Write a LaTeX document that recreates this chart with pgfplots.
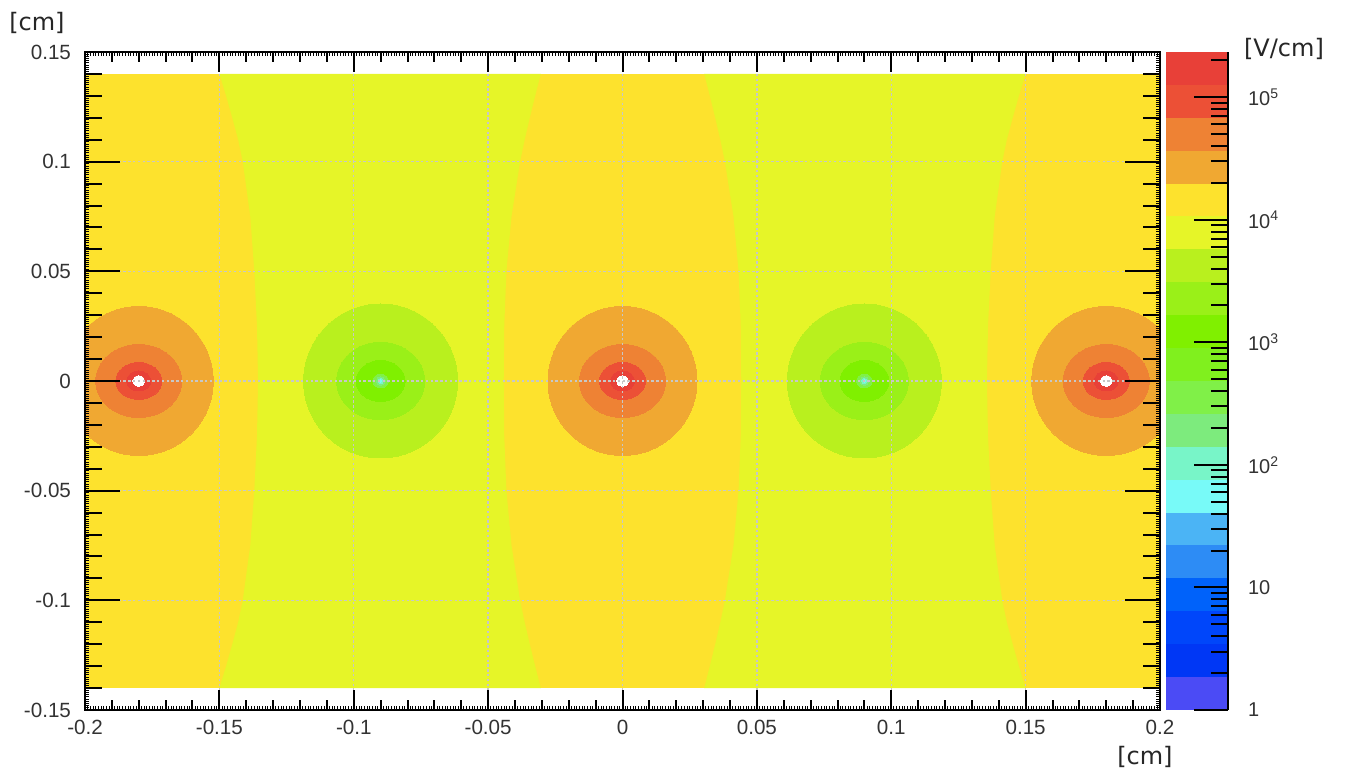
\documentclass[border=0pt]{standalone}
\usepackage{pgfplots}
\pgfplotsset{compat=1.18}
\usepackage{fontspec}
\setmainfont{Liberation Sans}
\newfontfamily\unitfont{DejaVu Sans}
\definecolor{c1}{RGB}{75,75,245}
\definecolor{c2}{RGB}{0,55,245}
\definecolor{c3}{RGB}{0,70,250}
\definecolor{c4}{RGB}{0,98,250}
\definecolor{c5}{RGB}{45,140,245}
\definecolor{c6}{RGB}{75,180,245}
\definecolor{c7}{RGB}{120,250,248}
\definecolor{c8}{RGB}{120,245,200}
\definecolor{c9}{RGB}{125,235,125}
\definecolor{c10}{RGB}{128,240,72}
\definecolor{c11}{RGB}{128,240,30}
\definecolor{c12}{RGB}{128,240,0}
\definecolor{c13}{RGB}{154,240,24}
\definecolor{c14}{RGB}{185,240,30}
\definecolor{c15}{RGB}{230,245,40}
\definecolor{c16}{RGB}{253,226,45}
\definecolor{c17}{RGB}{240,168,50}
\definecolor{c18}{RGB}{238,130,52}
\definecolor{c19}{RGB}{236,80,54}
\definecolor{c20}{RGB}{232,64,56}
\begin{document}
\begin{tikzpicture}
% ---------------- main field map ----------------
\begin{axis}[name=main, at={(0,0)}, anchor=south west,
  scale only axis, width=537.5pt, height=329pt,
  xmin=-0.2, xmax=0.2, ymin=-0.15, ymax=0.15,
  axis on top, clip marker paths=true,
  xtick={-0.2,-0.15,-0.1,-0.05,0,0.05,0.1,0.15,0.2},
  xticklabels={-0.2,-0.15,-0.1,-0.05,0,0.05,0.1,0.15,0.2},
  ytick={-0.15,-0.1,-0.05,0,0.05,0.1,0.15},
  yticklabels={-0.15,-0.1,-0.05,0,0.05,0.1,0.15},
  minor x tick num=4, minor y tick num=4,
  tick align=inside, major tick length=10pt, minor tick length=5pt,
  tick style={black, line width=1pt},
  grid=major,
  major grid style={black!22, line width=0.7pt, dash pattern=on 1.2pt off 1.2pt},
  axis line style={line width=1pt},
  ticklabel style={font=\fontsize{10.3}{12}\selectfont, text=black!80},
  xticklabel shift=1.5pt, yticklabel shift=3.5pt,
  xlabel={[cm]}, ylabel={[cm]},
  xlabel style={font=\unitfont\fontsize{12}{14}\selectfont, text=black!85,
    at={(axis description cs:0.986,-0.0714)}, anchor=center},
  ylabel style={font=\unitfont\fontsize{12}{14}\selectfont, text=black!85,
    at={(axis description cs:-0.0447,1.044)}, anchor=center, rotate=-90},
]
% background (yellow)
\addplot[fill=c16, draw=none] coordinates {(-0.2,-0.14) (0.2,-0.14) (0.2,0.14) (-0.2,0.14)} -- cycle;
% left yellow-green band
\addplot[fill=c15, draw=none] coordinates {
 (-0.1500,0.14) (-0.1475,0.13) (-0.1452,0.12) (-0.1430,0.11) (-0.1413,0.10)
 (-0.1385,0.075) (-0.1370,0.05) (-0.1360,0.025) (-0.1356,0) (-0.1360,-0.025)
 (-0.1370,-0.05) (-0.1385,-0.075) (-0.1413,-0.10) (-0.1430,-0.11) (-0.1452,-0.12)
 (-0.1475,-0.13) (-0.1500,-0.14)
 (-0.0304,-0.14) (-0.0325,-0.13) (-0.0345,-0.12) (-0.0364,-0.11) (-0.0381,-0.10)
 (-0.0413,-0.075) (-0.0432,-0.05) (-0.0440,-0.025) (-0.0442,0) (-0.0440,0.025)
 (-0.0432,0.05) (-0.0413,0.075) (-0.0381,0.10) (-0.0364,0.11) (-0.0345,0.12)
 (-0.0325,0.13) (-0.0304,0.14)} -- cycle;
% right yellow-green band
\addplot[fill=c15, draw=none] coordinates {
 (0.1500,0.14) (0.1475,0.13) (0.1452,0.12) (0.1430,0.11) (0.1413,0.10)
 (0.1385,0.075) (0.1370,0.05) (0.1360,0.025) (0.1356,0) (0.1360,-0.025)
 (0.1370,-0.05) (0.1385,-0.075) (0.1413,-0.10) (0.1430,-0.11) (0.1452,-0.12)
 (0.1475,-0.13) (0.1500,-0.14)
 (0.0304,-0.14) (0.0325,-0.13) (0.0345,-0.12) (0.0364,-0.11) (0.0381,-0.10)
 (0.0413,-0.075) (0.0432,-0.05) (0.0440,-0.025) (0.0442,0) (0.0440,0.025)
 (0.0432,0.05) (0.0413,0.075) (0.0381,0.10) (0.0364,0.11) (0.0345,0.12)
 (0.0325,0.13) (0.0304,0.14)} -- cycle;
% high-field wires
\addplot[only marks, mark=*, mark size=37.25pt, mark options={draw=c17, line width=0pt, fill=c17}] coordinates {(-0.18,0) (0,0) (0.18,0)};
\addplot[only marks, mark=*, mark size=18.25pt, mark options={draw=c18, line width=0pt, fill=c18, xscale=1.178}] coordinates {(-0.18,0) (0,0) (0.18,0)};
\addplot[only marks, mark=*, mark size=9.2pt, mark options={draw=c19, line width=0pt, fill=c19, xscale=1.25}] coordinates {(-0.18,0) (0,0) (0.18,0)};
\addplot[only marks, mark=*, mark size=5pt, mark options={draw=c20, line width=0pt, fill=c20, xscale=1.2}] coordinates {(-0.18,0) (0,0) (0.18,0)};
\addplot[only marks, mark=*, mark size=2.6pt, mark options={draw=white, line width=0pt, fill=white, xscale=1.15}] coordinates {(-0.18,0) (0,0) (0.18,0)};
% low-field points
\addplot[only marks, mark=*, mark size=38.5pt, mark options={draw=c14, line width=0pt, fill=c14}] coordinates {(-0.09,0) (0.09,0)};
\addplot[only marks, mark=*, mark size=19.35pt, mark options={draw=c13, line width=0pt, fill=c13, xscale=1.137}] coordinates {(-0.09,0) (0.09,0)};
\addplot[only marks, mark=*, mark size=10.25pt, mark options={draw=c12, line width=0pt, fill=c12, xscale=1.195}] coordinates {(-0.09,0) (0.09,0)};
\addplot[only marks, mark=*, mark size=3.4pt, mark options={draw=c10, line width=0pt, fill=c10, xscale=1.15}] coordinates {(-0.09,0) (0.09,0)};
\addplot[only marks, mark=*, mark size=2.2pt, mark options={draw=c9, line width=0pt, fill=c9}] coordinates {(-0.09,0) (0.09,0)};
\addplot[only marks, mark=*, mark size=1.3pt, mark options={draw=c8, line width=0pt, fill=c8}] coordinates {(-0.09,0) (0.09,0)};
\addplot[only marks, mark=*, mark size=0.6pt, mark options={draw=c7, line width=0pt, fill=c7}] coordinates {(-0.09,0) (0.09,0)};
\end{axis}
% ---------------- long y ticks ----------------
\begin{axis}[at={(main.south west)}, anchor=south west,
  scale only axis, width=537.5pt, height=329pt,
  xmin=-0.2, xmax=0.2, ymin=-0.15, ymax=0.15,
  xtick=\empty, ytick={-0.15,-0.1,-0.05,0,0.05,0.1,0.15},
  xticklabels={}, yticklabels={},
  minor y tick num=4, tick align=inside,
  major tick length=17.5pt, minor tick length=8.5pt,
  tick style={black, line width=1pt}, axis line style={line width=1pt}]
\end{axis}
% ---------------- dense tiny ticks ----------------
\begin{axis}[at={(main.south west)}, anchor=south west,
  scale only axis, width=537.5pt, height=329pt,
  xmin=-0.2, xmax=0.2, ymin=-0.15, ymax=0.15,
  xtick distance=0.01, ytick distance=0.01,
  minor x tick num=9, minor y tick num=9,
  xticklabels={}, yticklabels={}, tick align=inside,
  major tick length=1.8pt, minor tick length=1.8pt,
  tick style={black, line width=0.5pt}, axis line style={line width=1pt}]
\end{axis}
% ---------------- colour scale ----------------
\begin{axis}[at={(main.south east)}, anchor=south west, xshift=3pt,
  scale only axis, width=31pt, height=329pt,
  xmin=0, xmax=1, ymode=log, ymin=1, ymax=233900,
  hide x axis, axis y line*=right, axis on top,
  ytick={1,10,100,1000,10000,100000},
  yticklabels={1,10,10\textsuperscript{2},10\textsuperscript{3},10\textsuperscript{4},10\textsuperscript{5}},
  minor ytick={2,3,4,5,6,7,8,9,20,30,40,50,60,70,80,90,200,300,400,500,600,700,800,900,
    2000,3000,4000,5000,6000,7000,8000,9000,20000,30000,40000,50000,60000,70000,80000,90000,200000},
  tick align=inside, major tick length=17pt, minor tick length=8.5pt,
  tick style={black, line width=1pt},
  axis line style={line width=1pt, -}, y axis line style={-},
  yticklabel style={font=\fontsize{10}{12}\selectfont, text=black!80, anchor=west, xshift=6.5pt},
  ylabel={[V/cm]},
  ylabel style={font=\unitfont\fontsize{12}{14}\selectfont, text=black!85,
    at={(axis description cs:1.903,1.0046)}, anchor=center, rotate=-90},
]
\addplot[fill=c20, draw=none] coordinates {(0,1) (1,1) (1,233900) (0,233900)} -- cycle;
\addplot[fill=c19, draw=none] coordinates {(0,1) (1,1) (1,126100) (0,126100)} -- cycle;
\addplot[fill=c18, draw=none] coordinates {(0,1) (1,1) (1,67950) (0,67950)} -- cycle;
\addplot[fill=c17, draw=none] coordinates {(0,1) (1,1) (1,36620) (0,36620)} -- cycle;
\addplot[fill=c16, draw=none] coordinates {(0,1) (1,1) (1,19740) (0,19740)} -- cycle;
\addplot[fill=c15, draw=none] coordinates {(0,1) (1,1) (1,10640) (0,10640)} -- cycle;
\addplot[fill=c14, draw=none] coordinates {(0,1) (1,1) (1,5734) (0,5734)} -- cycle;
\addplot[fill=c13, draw=none] coordinates {(0,1) (1,1) (1,3091) (0,3091)} -- cycle;
\addplot[fill=c12, draw=none] coordinates {(0,1) (1,1) (1,1666) (0,1666)} -- cycle;
\addplot[fill=c11, draw=none] coordinates {(0,1) (1,1) (1,897.9) (0,897.9)} -- cycle;
\addplot[fill=c10, draw=none] coordinates {(0,1) (1,1) (1,483.9) (0,483.9)} -- cycle;
\addplot[fill=c9, draw=none] coordinates {(0,1) (1,1) (1,260.8) (0,260.8)} -- cycle;
\addplot[fill=c8, draw=none] coordinates {(0,1) (1,1) (1,140.56) (0,140.56)} -- cycle;
\addplot[fill=c7, draw=none] coordinates {(0,1) (1,1) (1,75.75) (0,75.75)} -- cycle;
\addplot[fill=c6, draw=none] coordinates {(0,1) (1,1) (1,40.82) (0,40.82)} -- cycle;
\addplot[fill=c5, draw=none] coordinates {(0,1) (1,1) (1,22.00) (0,22.00)} -- cycle;
\addplot[fill=c4, draw=none] coordinates {(0,1) (1,1) (1,11.857) (0,11.857)} -- cycle;
\addplot[fill=c3, draw=none] coordinates {(0,1) (1,1) (1,6.3896) (0,6.3896)} -- cycle;
\addplot[fill=c2, draw=none] coordinates {(0,1) (1,1) (1,3.4434) (0,3.4434)} -- cycle;
\addplot[fill=c1, draw=none] coordinates {(0,1) (1,1) (1,1.8556) (0,1.8556)} -- cycle;
\end{axis}
\pgfresetboundingbox
\path (main.south west) ++(-42.5pt,-30.5pt) rectangle ++(673pt,385.5pt);
\end{tikzpicture}
\end{document}
